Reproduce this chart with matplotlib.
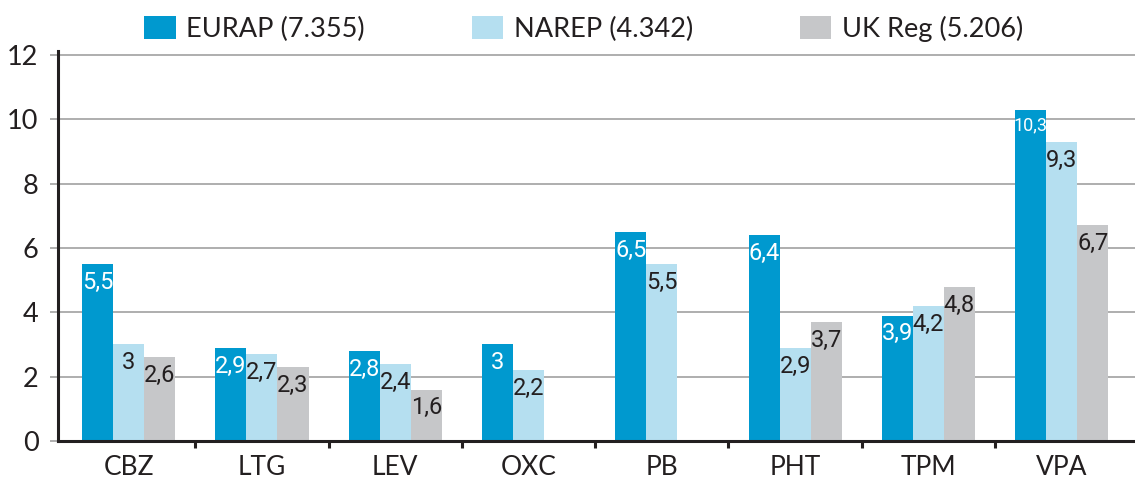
import matplotlib
matplotlib.use("Agg")
import matplotlib.pyplot as plt
import numpy as np
from matplotlib.patches import Patch

categories = ["CBZ", "LTG", "LEV", "OXC", "PB", "PHT", "TPM", "VPA"]
series_names = ["EURAP (7.355)", "NAREP (4.342)", "UK Reg (5.206)"]
eurap = [5.5, 2.9, 2.8, 3.0, 6.5, 6.4, 3.9, 10.3]
narep = [3.0, 2.7, 2.4, 2.2, 5.5, 2.9, 4.2, 9.3]
ukreg = [2.6, 2.3, 1.6, None, None, 3.7, 4.8, 6.7]
colors = ["#0099cf", "#b5dff0", "#c6c7c9"]
label_colors = ["white", "#231f20", "#231f20"]
yticks = [0, 2, 4, 6, 8, 10, 12]

main_font = ["Lato", "DejaVu Sans"]
num_font = ["Roboto", "DejaVu Sans"]

fig = plt.figure(figsize=(11.35, 4.82), dpi=100)
ax = fig.add_axes([58 / 1135, 1 - 441 / 482, 1 - 58 / 1135, (441 - 51) / 482])

x = np.arange(len(categories))
w = 0.233
for i, (vals, col, lc) in enumerate(zip([eurap, narep, ukreg], colors, label_colors)):
    xs = [xx + (i - 1) * w for xx, v in zip(x, vals) if v is not None]
    vs = [v for v in vals if v is not None]
    ax.bar(xs, vs, width=w, color=col, zorder=2, linewidth=0)
    for xx, v in zip(xs, vs):
        s = ("%g" % v).replace(".", ",")
        ax.annotate(s, (xx, v), xytext=(0, -5), textcoords="offset points",
                    ha="center", va="top", color=lc, family=num_font,
                    fontsize=13 if v >= 10 else 17, zorder=3)

ax.set_xlim(-0.53, 7.55)
ax.set_ylim(0, 12.12)
ax.set_yticks(yticks)
ax.set_yticklabels([str(t) for t in yticks], family=main_font, fontsize=19.5, color="#231f20")
ax.yaxis.grid(True, color="#999999", linewidth=1.1, zorder=0)
ax.set_axisbelow(True)
ax.tick_params(axis="y", length=6, width=1.1, color="#999999", pad=8)

ax.set_xticks(x)
ax.set_xticklabels(categories, family=main_font, fontsize=19, color="#231f20")
ax.set_xticks(np.arange(0.5, len(categories) - 0.5, 1), minor=True)
ax.tick_params(axis="x", which="major", length=0, pad=10)
ax.tick_params(axis="x", which="minor", length=5, width=2.2, color="#231f20", direction="out")

for s in ["top", "right"]:
    ax.spines[s].set_visible(False)
for s in ["left", "bottom"]:
    ax.spines[s].set_linewidth(2.2)
    ax.spines[s].set_color("#231f20")
    ax.spines[s].set_zorder(4)

handles = [Patch(facecolor=c, edgecolor="none") for c in colors]
leg = fig.legend(handles, series_names, loc="center", bbox_to_anchor=(584 / 1135, 1 - 29 / 482),
                 ncol=3, frameon=False, handlelength=1.15, handleheight=0.93,
                 handletextpad=0.4, columnspacing=3.95, borderpad=0, borderaxespad=0,
                 prop={"family": main_font, "size": 19.5})
for t in leg.get_texts():
    t.set_color("#231f20")

fig.savefig("out.png", dpi=100)
